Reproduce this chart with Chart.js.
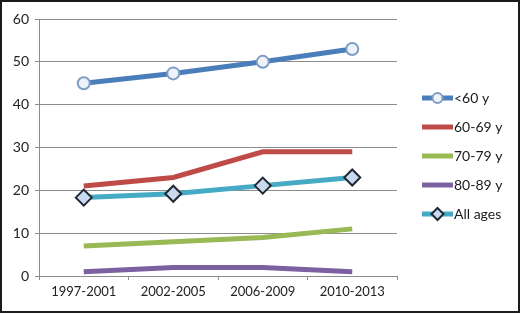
<!DOCTYPE html>
<html>
<head>
<meta charset="utf-8">
<script src="https://cdn.jsdelivr.net/npm/chart.js@4/dist/chart.umd.min.js"></script>
<style>
  html, body { margin: 0; padding: 0; background: #fff; }
  #wrap { width: 516px; height: 309px; border: 2px solid #1a1a1a; background: #fff; }
</style>
</head>
<body>
<div id="wrap"><canvas id="chart" width="516" height="309"></canvas></div>
<script>
// periods on the x axis
const periods = ['1997-2001', '2002-2005', '2006-2009', '2010-2013'];

// series values
const under60 = [45, 47.3, 50, 53];
const age60to69 = [21, 23, 29, 29];
const age70to79 = [7, 8, 9, 11];
const age80to89 = [1, 2, 2, 1];
const allAges = [18.3, 19.2, 21.1, 23];

const seriesNames = ['<60 y', '60-69 y', '70-79 y', '80-89 y', 'All ages'];

const FONT = 'Lato, "Liberation Sans", sans-serif';

// legend drawn by hand so each entry shows line + marker like the original
const sideLegend = {
  id: 'sideLegend',
  afterDraw(chart) {
    const ctx = chart.ctx;
    const x0 = 420, x1 = 451;
    chart.data.datasets.forEach((ds, i) => {
      const y = 96 + i * 29;
      ctx.save();
      ctx.strokeStyle = ds.borderColor;
      ctx.lineWidth = 5;
      ctx.beginPath();
      ctx.moveTo(x0, y);
      ctx.lineTo(x1, y);
      ctx.stroke();
      if (ds.pointRadius > 0) {
        const cx = (x0 + x1) / 2;
        ctx.fillStyle = ds.pointBackgroundColor;
        ctx.strokeStyle = ds.pointBorderColor;
        ctx.lineWidth = ds.pointBorderWidth;
        ctx.beginPath();
        if (ds.pointStyle === 'circle') {
          ctx.arc(cx, y, 5, 0, Math.PI * 2);
        } else {
          const r = 6;
          ctx.moveTo(cx, y - r); ctx.lineTo(cx + r, y); ctx.lineTo(cx, y + r); ctx.lineTo(cx - r, y); ctx.closePath();
        }
        ctx.fill();
        ctx.stroke();
      }
      ctx.fillStyle = '#1a1a1a';
      ctx.font = '14px ' + FONT;
      ctx.textBaseline = 'middle';
      ctx.textAlign = 'left';
      ctx.fillText(seriesNames[i], x1 + 1, y);
      ctx.restore();
    });
  }
};

new Chart(document.getElementById('chart'), {
  type: 'line',
  data: {
    labels: periods,
    datasets: [
      {
        label: seriesNames[0], data: under60,
        borderColor: '#4a7ebb', borderWidth: 5,
        pointStyle: 'circle', pointRadius: 6, pointBorderWidth: 2,
        pointBackgroundColor: '#eef3fa', pointBorderColor: '#7f9cc4'
      },
      {
        label: seriesNames[1], data: age60to69,
        borderColor: '#be4b48', borderWidth: 5, pointRadius: 0
      },
      {
        label: seriesNames[2], data: age70to79,
        borderColor: '#98b954', borderWidth: 5, pointRadius: 0
      },
      {
        label: seriesNames[3], data: age80to89,
        borderColor: '#7d60a0', borderWidth: 5, pointRadius: 0
      },
      {
        label: seriesNames[4], data: allAges,
        borderColor: '#46aac5', borderWidth: 5,
        pointStyle: 'rectRot', pointRadius: 8, pointBorderWidth: 2,
        pointBackgroundColor: '#c9d9f0', pointBorderColor: '#1e2733'
      }
    ]
  },
  options: {
    responsive: false,
    animation: false,
    layout: { padding: { top: 17, right: 121, left: 0, bottom: 0 } },
    plugins: { legend: { display: false }, tooltip: { enabled: false } },
    scales: {
      x: {
        offset: true,
        grid: { offset: true, drawOnChartArea: false, drawTicks: true, tickLength: 4, color: '#8c8c8c' },
        border: { color: '#8c8c8c' },
        ticks: { color: '#222', font: { family: FONT, size: 13 }, padding: 4, maxRotation: 0 },
        afterFit(scale) { scale.height = 35; }
      },
      y: {
        min: 0, max: 60,
        ticks: { stepSize: 10, color: '#222', font: { family: FONT, size: 14 }, padding: 6 },
        grid: { color: '#8c8c8c', tickLength: 4 },
        border: { color: '#8c8c8c' },
        afterFit(scale) { scale.width = 37; }
      }
    }
  },
  plugins: [sideLegend]
});
</script>
</body>
</html>
